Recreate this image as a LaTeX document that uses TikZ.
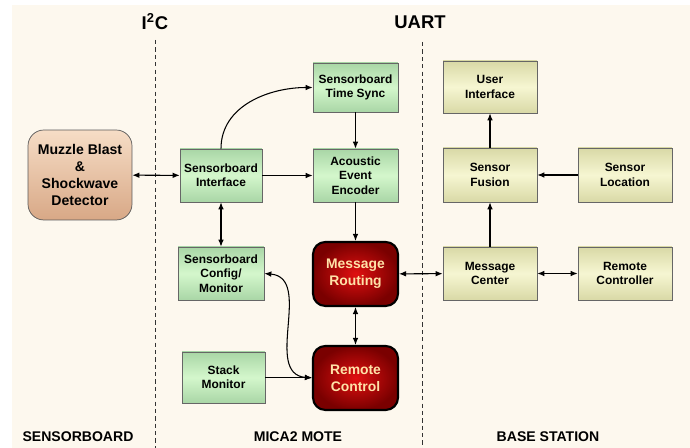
\documentclass[tikz,border=0pt]{standalone}
\usepackage{fontspec}
\setmainfont{Liberation Sans}
\usetikzlibrary{arrows.meta}
\definecolor{paper}{HTML}{FDF8EE}
\definecolor{greenhi}{HTML}{D4F7CC}
\definecolor{greenlo}{HTML}{A9D6A6}
\definecolor{olivehi}{HTML}{F6F6D2}
\definecolor{olivelo}{HTML}{D9D9A6}
\definecolor{tanhi}{HTML}{F6DDC6}
\definecolor{tanlo}{HTML}{D8A886}
\definecolor{redhi}{HTML}{E01010}
\definecolor{redlo}{HTML}{7A0000}
\definecolor{redtext}{HTML}{FFE2A8}

\tikzset{
 moteblock/.style={draw=gray!80!black, top color=greenlo, bottom color=greenlo, middle color=greenhi,
   align=center, inner sep=1pt, font=\bfseries\fontsize{6.8}{8.2}\selectfont},
 baseblock/.style={draw=gray!80!black, top color=olivelo, bottom color=olivelo, middle color=olivehi,
   align=center, inner sep=1pt, font=\bfseries\fontsize{6.8}{8.2}\selectfont},
 hotblock/.style={draw=black, line width=1.2pt, rounded corners=7pt, shading=radial,
   inner color=redhi, outer color=redlo, text=redtext, align=center,
   minimum width=1.7cm, minimum height=1.28cm, font=\bfseries\fontsize{7.9}{9.5}\selectfont},
 link/.style={line width=0.6pt, -{Latex[length=4pt,width=3.2pt]}},
 dlink/.style={line width=0.6pt, {Latex[length=4pt,width=3.2pt]}-{Latex[length=4pt,width=3.2pt]}},
 border/.style={line width=0.5pt, black!80, dash pattern=on 2.4pt off 1.8pt},
 zone/.style={font=\bfseries\fontsize{8}{9.6}\selectfont},
 bus/.style={font=\bfseries\fontsize{10.5}{12}\selectfont}
}

\begin{document}
\begin{tikzpicture}[x=0.02cm, y=-0.02cm]
 \useasboundingbox (0,0) rectangle (690,448);
 \fill[white] (0,0) rectangle (690,448);
 \fill[paper] (12,5) rectangle (690,448);

 % bus borders
 \node[bus] (i2c) at (155,22) {I\textsuperscript{2}C};
 \node[bus] (uart) at (420,22) {UART};
 \coordinate (i2ctop) at (155,40);
 \coordinate (i2cbot) at (155,448);
 \coordinate (uarttop) at (422,42);
 \coordinate (uartbot) at (422,448);
 \draw[border] (i2ctop) -- (i2cbot);
 \draw[border] (uarttop) -- (uartbot);

 % sensorboard
 \node[draw=gray!70!black, rounded corners=9pt, top color=tanhi, bottom color=tanlo, align=center,
   minimum width=2.08cm, minimum height=1.8cm, font=\bfseries\fontsize{8}{9.6}\selectfont]
   (muzzle) at (80,175) {Muzzle Blast\\\&\\Shockwave\\Detector};

 % mica2 mote
 \node[moteblock, minimum width=1.64cm, minimum height=1.06cm] (sbif) at (221,175.5) {Sensorboard\\Interface};
 \node[moteblock, minimum width=1.7cm, minimum height=0.98cm] (sync) at (355.5,87.5) {Sensorboard\\Time Sync};
 \node[moteblock, minimum width=1.7cm, minimum height=1.06cm] (enc) at (355.5,175.5) {Acoustic\\Event\\Encoder};
 \node[moteblock, minimum width=1.72cm, minimum height=1.06cm] (cfg) at (221,273.5) {Sensorboard\\Config/\\Monitor};
 \node[moteblock, minimum width=1.66cm, minimum height=1.02cm] (stack) at (223.5,377.5) {Stack\\Monitor};
 \node[hotblock] (route) at (355.5,274) {Message\\Routing};
 \node[hotblock] (ctrl) at (355.5,378) {Remote\\Control};

 % base station
 \node[baseblock, minimum width=1.88cm, minimum height=1.04cm] (ui) at (490,87) {User\\Interface};
 \node[baseblock, minimum width=1.88cm, minimum height=1.08cm] (fusion) at (490,175) {Sensor\\Fusion};
 \node[baseblock, minimum width=1.88cm, minimum height=1.08cm] (loc) at (625,175) {Sensor\\Location};
 \node[baseblock, minimum width=1.88cm, minimum height=1.06cm] (center) at (490,273.5) {Message\\Center};
 \node[baseblock, minimum width=1.88cm, minimum height=1.06cm] (rctl) at (625,273.5) {Remote\\Controller};

 % connectors
 \draw[dlink] (muzzle) -- (sbif);
 \draw[link] (sbif) -- (enc);
 \draw[link] (sbif.north) to[out=90, in=180] (sync.west);
 \draw[link] (sync) -- (enc);
 \draw[link] (enc) -- (route);
 \draw[dlink] (sbif) -- (cfg);
 \draw[dlink] (cfg.east) to[out=-5, in=175, looseness=1.1] (ctrl.west);
 \draw[link] (stack) -- (stack -| ctrl.west);
 \draw[dlink] (route) -- (ctrl);
 \draw[dlink] (route) -- (center);
 \draw[link] (center) -- (fusion);
 \draw[link] (fusion) -- (ui);
 \draw[link] (loc) -- (fusion);
 \draw[dlink] (center) -- (rctl);

 % zones
 \node[zone] (sbzone) at (78,437) {SENSORBOARD};
 \node[zone] (motezone) at (298,437) {MICA2 MOTE};
 \node[zone] (basezone) at (548,437) {BASE STATION};
\end{tikzpicture}
\end{document}
